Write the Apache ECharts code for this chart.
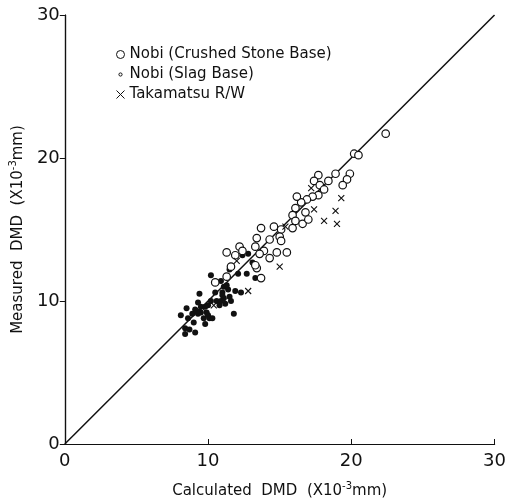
<!DOCTYPE html>
<html>
<head>
<meta charset="utf-8">
<script src="https://cdn.jsdelivr.net/npm/echarts@6/dist/echarts.min.js"></script>
<style>html,body{margin:0;padding:0;background:#fff}#c{width:509px;height:504px}</style>
</head>
<body>
<div id="c"></div>
<script>
var seriesNames = ['Nobi (Crushed Stone Base)', 'Nobi (Slag Base)', 'Takamatsu R/W'];
var crushedStone = [
[22.4,21.7],[20.2,20.3],[20.5,20.2],[18.9,18.9],[19.9,18.9],[19.7,18.5],[19.4,18.1],
[18.4,18.4],[17.7,18.8],[17.4,18.4],[17.8,18.1],[18.1,17.8],[17.7,17.4],[17.3,17.3],
[16.9,17.1],[16.5,16.9],[16.2,17.3],[16.1,16.5],[15.9,16.0],[16.8,16.2],[16.1,15.6],
[16.6,15.4],[17.0,15.7],[15.9,15.1],[15.1,15.0],[14.6,15.2],[13.7,15.1],[15.0,14.5],
[15.1,14.2],[14.3,14.3],[13.4,14.4],[13.3,13.8],[13.9,13.5],[13.6,13.3],[14.3,13.0],
[14.8,13.4],[15.5,13.4],[13.4,12.3],[13.3,12.5],[13.7,11.6],[12.2,13.8],[12.4,13.5],
[11.9,13.2],[11.3,13.4],[11.6,12.4],[11.3,11.7],[10.5,11.3]
];
var slagBase = [
[8.1,9.0],[8.4,8.1],[8.4,7.7],[8.5,9.5],[8.9,9.1],[9.0,8.5],[9.1,7.8],[8.7,8.0],
[9.3,9.9],[9.4,10.5],[9.5,9.2],[9.7,8.8],[9.8,8.4],[9.9,9.2],[10.0,9.7],[10.1,8.8],
[10.3,8.8],[10.2,10.0],[10.6,10.0],[10.8,9.7],[10.5,10.6],[11.0,10.6],[11.1,11.0],
[10.9,11.4],[10.2,11.8],[11.4,10.8],[11.5,10.3],[11.6,10.0],[11.1,10.2],[11.9,10.7],
[11.8,9.1],[12.3,10.6],[11.5,12.2],[12.1,11.9],[12.7,11.9],[12.4,13.2],[13.1,12.7],
[13.3,11.6],[12.8,13.3],[9.1,9.4],[8.6,8.8],[9.5,9.6],[9.8,9.6],[9.3,9.1],[11.2,9.8],
[10.9,10.0],[9.2,9.3],[10.0,9.0],[11.3,11.1],[11.0,10.4]
];
var takamatsu = [
[17.2,17.9],[17.4,16.4],[18.1,15.6],[18.9,16.3],[19.0,15.4],[19.3,17.2],[15.0,12.4],
[12.8,10.7],[12.0,12.8],[15.4,15.2],[9.6,9.5],[10.4,9.7]
];
var tickValues = [0, 10, 20, 30];
var diagonal = [[0,0],[30,30]];

var crossPath = 'path://M0,0L10,10M10,0L0,10';
var smallCirclePath = 'path://M0,0L0,0M10,10L10,10M5,3A2,2 0 1,1 5,7A2,2 0 1,1 5,3Z';
var font = 'DejaVu Sans';
var nameRich = {
  a: {fontFamily: font, fontSize: 15, color: '#111'},
  s: {fontFamily: font, fontSize: 10, color: '#111', verticalAlign: 'bottom', lineHeight: 10, padding: [0,0,8,0]}
};
var chart = echarts.init(document.getElementById('c'));
var axisCommon = {
  type: 'value', min: 0, max: 30, interval: 10,
  splitLine: {show: false},
  axisLine: {show: true, lineStyle: {color: '#111', width: 1.2}}
};
chart.setOption({
  backgroundColor: '#fff',
  animation: false,
  grid: {left: 61, right: 11, top: 15, bottom: 59},
  legend: {
    orient: 'vertical', left: 109, top: 42, itemGap: 5, itemWidth: 8, itemHeight: 8,
    textStyle: {fontFamily: font, fontSize: 15, color: '#111'},
    data: [
      {name: seriesNames[0], icon: 'circle', itemStyle: {color: '#fff', borderColor: '#111', borderWidth: 1}},
      {name: seriesNames[1], icon: smallCirclePath, itemStyle: {color: '#fff', borderColor: '#111', borderWidth: 1}},
      {name: seriesNames[2], icon: crossPath, itemStyle: {color: 'none', borderColor: '#111', borderWidth: 1}}
    ]
  },
  xAxis: [
    Object.assign({}, axisCommon, {
      position: 'bottom',
      name: '{a|Calculated  DMD  (X10}{s|-3}{a|mm)}',
      nameLocation: 'middle', nameGap: 40,
      nameTextStyle: {rich: nameRich},
      axisTick: {show: true, inside: true, length: 5, lineStyle: {color: '#111'}},
      axisLabel: {fontFamily: font, fontSize: 18, color: '#111', margin: 8}
    }),
    Object.assign({}, axisCommon, {
      position: 'top', axisTick: {show: false}, axisLabel: {show: false}
    })
  ],
  yAxis: [
    Object.assign({}, axisCommon, {
      position: 'left',
      name: '{a|Measured  DMD  (X10}{s|-3}{a|mm)}',
      nameLocation: 'middle', nameGap: 37, nameRotate: 90,
      nameTextStyle: {rich: nameRich},
      axisTick: {show: true, inside: false, length: 4, lineStyle: {color: '#111'}},
      axisLabel: {fontFamily: font, fontSize: 18, color: '#111', margin: 5}
    }),
    Object.assign({}, axisCommon, {
      position: 'right', axisTick: {show: true, inside: true, length: 5, lineStyle: {color: '#111'}},
      axisLabel: {show: false}
    })
  ],
  series: [
    {
      type: 'line', data: diagonal, symbol: 'none', silent: true,
      lineStyle: {color: '#111', width: 1.5}, z: 1
    },
    {
      name: seriesNames[0], type: 'scatter', data: crushedStone, symbol: 'circle', symbolSize: 7.5,
      itemStyle: {color: '#fff', borderColor: '#111', borderWidth: 1.2, opacity: 1}, z: 3
    },
    {
      name: seriesNames[1], type: 'scatter', data: slagBase, symbol: 'circle', symbolSize: 6,
      itemStyle: {color: '#111', opacity: 1}, z: 2
    },
    {
      name: seriesNames[2], type: 'scatter', data: takamatsu, symbol: crossPath, symbolSize: 6,
      itemStyle: {color: 'none', borderColor: '#111', borderWidth: 1.1, opacity: 1}, z: 4
    }
  ]
});
</script>
</body>
</html>
